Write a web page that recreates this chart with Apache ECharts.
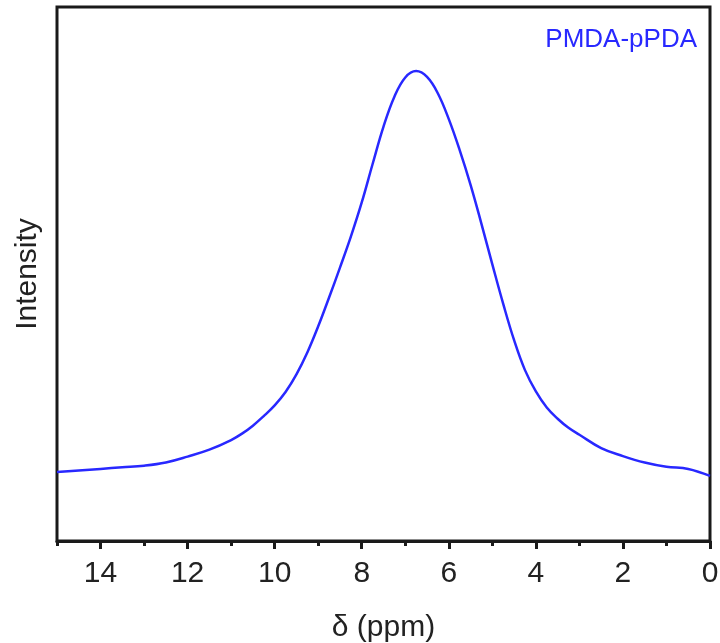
<!DOCTYPE html>
<html>
<head>
<meta charset="utf-8">
<script src="https://cdn.jsdelivr.net/npm/echarts@6/dist/echarts.min.js"></script>
<style>html,body{margin:0;padding:0;background:#fff;}#c{width:720px;height:643px;}</style>
</head>
<body>
<div id="c"></div>
<script>
// Chemical shift (ppm) and intensity (arbitrary units)
var delta = [15.0, 14.5, 14.0, 13.5, 13.0, 12.5, 12.0, 11.5, 11.0, 10.75, 10.5, 10.25, 10.0, 9.75, 9.5, 9.25, 9.0, 8.75, 8.5, 8.25, 8.0, 7.75, 7.5, 7.25, 7.0, 6.75, 6.5, 6.25, 6.0, 5.75, 5.5, 5.25, 5.0, 4.75, 4.5, 4.25, 4.0, 3.75, 3.5, 3.25, 3.0, 2.5, 2.0, 1.5, 1.0, 0.5, 0.0];
var intensity = [12.9, 13.2, 13.5, 13.8, 14.1, 14.7, 15.8, 17.1, 18.9, 20.1, 21.6, 23.4, 25.4, 27.9, 31.2, 35.3, 40.2, 45.6, 51.2, 57.0, 63.4, 70.6, 77.6, 83.2, 86.8, 88.0, 86.9, 83.8, 79.0, 73.2, 66.7, 59.4, 51.8, 44.4, 37.6, 32.0, 28.0, 25.0, 22.9, 21.2, 19.9, 17.4, 15.9, 14.7, 13.9, 13.5, 12.2];
var majorTicks = [0, 2, 4, 6, 8, 10, 12, 14];
var minorTicks = [1, 3, 5, 7, 9, 11, 13, 15];
var seriesName = 'PMDA-pPDA';

var FONT = "'Liberation Sans', Arial, sans-serif";
var BLUE = '#2828ff';
var pts = delta.map(function (d, i) { return [d, intensity[i]]; });

var chart = echarts.init(document.getElementById('c'), null, {renderer: 'canvas'});
chart.setOption({
  animation: false,
  backgroundColor: '#ffffff',
  title: {
    text: seriesName,
    right: 18, top: 22,
    textStyle: {color: BLUE, fontSize: 26, fontWeight: 'normal', fontFamily: FONT}
  },
  grid: {
    left: 57, right: 10, top: 7, bottom: 102,
    outerBoundsMode: 'none', containLabel: false,
    show: true, borderColor: '#1a1a1a', borderWidth: 3, backgroundColor: 'transparent'
  },
  xAxis: [{
    type: 'value', min: 0, max: 15, inverse: true, interval: 2,
    name: 'δ (ppm)', nameLocation: 'middle', nameGap: 72,
    nameTextStyle: {fontSize: 30, color: '#222', fontFamily: FONT},
    axisLine: {show: true, lineStyle: {color: '#1a1a1a', width: 3}},
    axisTick: {show: true, length: 8, customValues: majorTicks, lineStyle: {color: '#1a1a1a', width: 3}},
    axisLabel: {show: true, customValues: majorTicks, margin: 18, fontSize: 30, color: '#222', fontFamily: FONT},
    splitLine: {show: false}
  }, {
    type: 'value', min: 0, max: 15, inverse: true, interval: 1, position: 'bottom',
    axisLine: {show: false},
    axisTick: {show: true, length: 5, customValues: minorTicks, lineStyle: {color: '#1a1a1a', width: 3}},
    axisLabel: {show: false},
    splitLine: {show: false}
  }],
  yAxis: {
    type: 'value', min: 0, max: 100,
    name: 'Intensity', nameLocation: 'middle', nameGap: 14,
    nameTextStyle: {fontSize: 30, color: '#222', fontFamily: FONT},
    axisLine: {show: false}, axisTick: {show: false}, axisLabel: {show: false}, splitLine: {show: false}
  },
  series: [{
    name: seriesName, type: 'line', xAxisIndex: 0, data: pts, smooth: 0.4,
    showSymbol: false, lineStyle: {color: BLUE, width: 2.5}
  }]
});
</script>
</body>
</html>
